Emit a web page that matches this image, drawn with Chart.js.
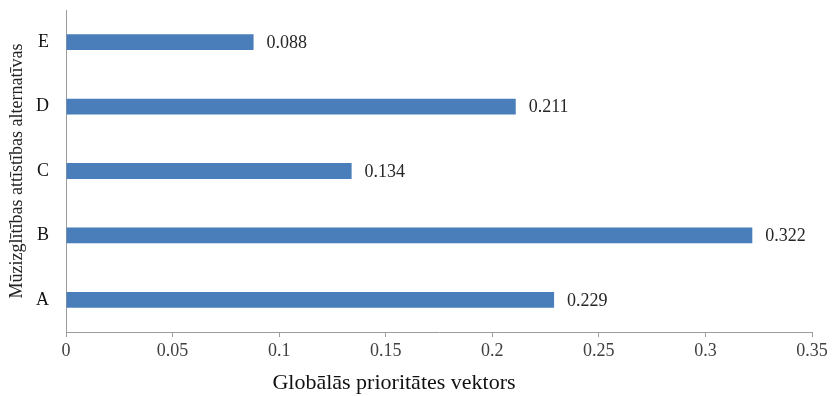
<!DOCTYPE html>
<html>
<head>
<meta charset="utf-8">
<script src="https://cdn.jsdelivr.net/npm/chart.js@4"></script>
<style>
  html, body { margin: 0; padding: 0; background: #fff; }
  #wrap { width: 832px; height: 396px; }
</style>
</head>
<body>
<div id="wrap"><canvas id="chart"></canvas></div>
<script>
// Chart data
const categories = ['A', 'B', 'C', 'D', 'E'];
const priorities = [0.229, 0.322, 0.134, 0.211, 0.088];
const xTicks = [0, 0.05, 0.1, 0.15, 0.2, 0.25, 0.3, 0.35];
const xTitle = 'Globālās prioritātes vektors';
const yTitle = 'Mūzizglītības attīstības alternatīvas';

const serif = '"Liberation Serif", "Times New Roman", serif';

// Value labels to the right of each bar, plus the x axis title
// (the title sits left of the plot centre in the original)
const barLabels = {
    id: 'barLabels',
    afterDatasetsDraw(chart) {
        const ctx = chart.ctx;
        const meta = chart.getDatasetMeta(0);
        ctx.save();
        ctx.font = '18px ' + serif;
        ctx.fillStyle = '#262626';
        ctx.textBaseline = 'middle';
        ctx.textAlign = 'left';
        meta.data.forEach((bar, i) => {
            ctx.fillText(priorities[i].toFixed(3), bar.x + 13, bar.y + 1);
        });

        ctx.font = '22px ' + serif;
        ctx.fillStyle = '#111';
        ctx.textAlign = 'center';
        ctx.fillText(xTitle, chart.width / 2 - 22, 383);
        ctx.restore();
    }
};

new Chart(document.getElementById('chart'), {
    type: 'bar',
    data: {
        labels: categories,
        datasets: [{
            data: priorities,
            backgroundColor: '#4a7ebb',
            categoryPercentage: 1,
            barPercentage: 0.245
        }]
    },
    options: {
        indexAxis: 'y',
        responsive: true,
        maintainAspectRatio: false,
        animation: false,
        layout: { padding: { top: 10, right: 20, left: 0, bottom: 0 } },
        plugins: {
            legend: { display: false },
            tooltip: { enabled: false }
        },
        scales: {
            x: {
                min: 0,
                max: 0.35,
                afterBuildTicks(scale) {
                    scale.ticks = xTicks.map(v => ({ value: v }));
                },
                afterFit(scale) {
                    scale.height = 64;
                    scale.paddingLeft = 0;
                    scale.paddingRight = 0;
                },
                grid: {
                    drawOnChartArea: false,
                    drawTicks: true,
                    tickLength: 5,
                    color: '#9c9c9c'
                },
                border: { color: '#9c9c9c', width: 1 },
                ticks: {
                    color: '#404040',
                    font: { family: serif, size: 18 },
                    padding: 3,
                    maxRotation: 0,
                    callback: v => String(v)
                },
                title: { display: false }
            },
            y: {
                reverse: true,
                afterFit(scale) {
                    scale.width = 66;
                    scale.paddingTop = 0;
                    scale.paddingBottom = 0;
                },
                grid: { display: false },
                border: { color: '#9c9c9c', width: 1 },
                ticks: {
                    color: '#111',
                    font: { family: serif, size: 18 },
                    padding: 9
                },
                title: {
                    display: true,
                    text: yTitle,
                    color: '#222',
                    font: { family: serif, size: 18 },
                    padding: { top: 6, bottom: 0 }
                }
            }
        }
    },
    plugins: [barLabels]
});
</script>
</body>
</html>
